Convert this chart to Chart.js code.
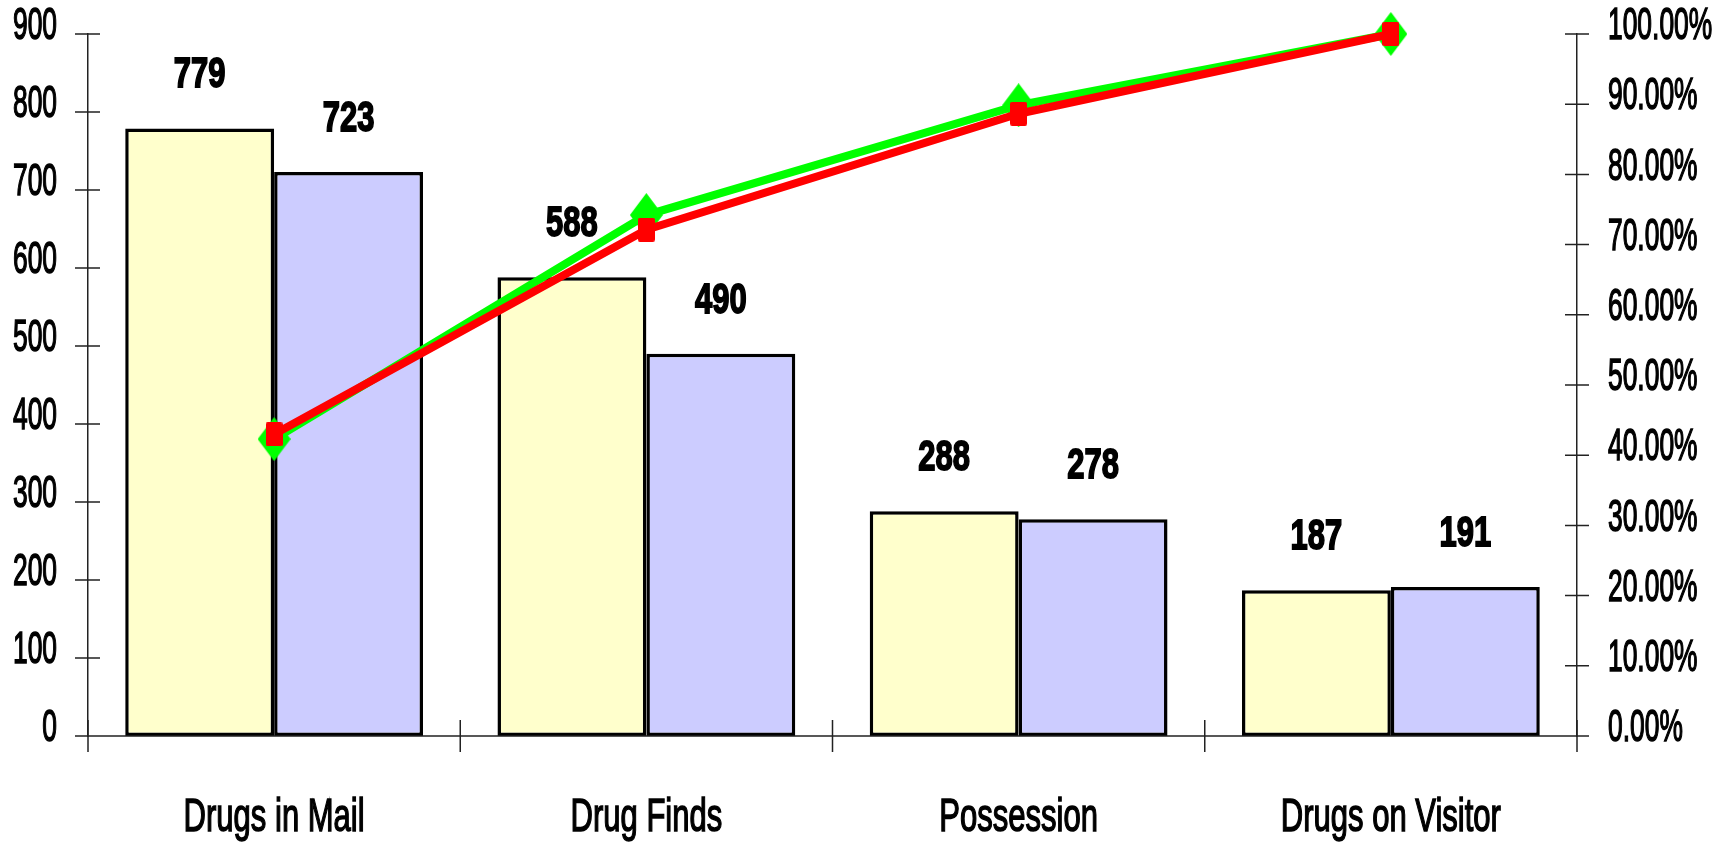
<!DOCTYPE html>
<html>
<head>
<meta charset="utf-8">
<script src="https://cdn.jsdelivr.net/npm/chart.js@4/dist/chart.umd.min.js"></script>
<style>
  html, body { margin: 0; padding: 0; background: #fff; }
  #wrap { width: 1735px; height: 845px; }
</style>
</head>
<body>
<div id="wrap"><canvas id="paretoChart"></canvas></div>
<script>
const categories = ["Drugs in Mail", "Drug Finds", "Possession", "Drugs on Visitor"];
const countsA = [779, 588, 288, 187];
const countsB = [723, 490, 278, 191];
const cumPctA = [42.29, 74.21, 89.85, 100];
const cumPctB = [42.98, 72.12, 88.64, 100];
const leftTicks = [0, 100, 200, 300, 400, 500, 600, 700, 800, 900];
const rightTicks = [0, 10, 20, 30, 40, 50, 60, 70, 80, 90, 100];

const FONT = '"Liberation Sans", Arial, sans-serif';

function markerCanvas(w, h, color, shape){
  const c = document.createElement("canvas");
  c.width = w; c.height = h;
  const g = c.getContext("2d");
  g.fillStyle = color;
  g.beginPath();
  if (shape === "diamond") {
    g.moveTo(w / 2, 0); g.lineTo(w, h / 2); g.lineTo(w / 2, h); g.lineTo(0, h / 2);
  } else {
    g.roundRect(0, 0, w, h, 2);
  }
  g.closePath();
  g.fill();
  return c;
}

// the original uses a very condensed face, so squeeze the text horizontally
function narrowText(ctx, text, x, y, sx, heavy){
  ctx.save();
  ctx.translate(x, y);
  ctx.scale(sx, 1);
  if (heavy) {
    ctx.lineWidth = heavy;
    ctx.strokeStyle = ctx.fillStyle;
    ctx.strokeText(text, 0, 0);
  }
  ctx.fillText(text, 0, 0);
  ctx.restore();
}

// axis marks that cross the axis lines, like the original spreadsheet chart
const crossTicks = {
  id: "crossTicks",
  afterDraw(chart){
    const ctx = chart.ctx;
    const area = chart.chartArea;
    const yl = chart.scales.y, yr = chart.scales.y2, x = chart.scales.x;
    ctx.save();
    ctx.strokeStyle = "#222";
    ctx.lineWidth = 1.5;
    ctx.beginPath();
    leftTicks.forEach(v => {
      const py = yl.getPixelForValue(v);
      ctx.moveTo(area.left - 13, py); ctx.lineTo(area.left + 12, py);
    });
    rightTicks.forEach(v => {
      const py = yr.getPixelForValue(v);
      ctx.moveTo(area.right - 12, py); ctx.lineTo(area.right + 12, py);
    });
    for (let i = 0; i <= categories.length; i++) {
      const px = x.getPixelForValue(i - 0.5);
      ctx.moveTo(px, area.bottom - 16); ctx.lineTo(px, area.bottom + 16);
    }
    ctx.moveTo(area.left - 13, area.bottom); ctx.lineTo(area.right + 12, area.bottom);
    ctx.stroke();

    ctx.fillStyle = "#000";
    ctx.textBaseline = "middle";
    ctx.font = "44px " + FONT;
    ctx.textAlign = "right";
    leftTicks.forEach(v => narrowText(ctx, String(v), area.left - 31, yl.getPixelForValue(v) - 7, 0.6, 1.5));
    ctx.textAlign = "left";
    rightTicks.forEach(v => narrowText(ctx, v.toFixed(2) + "%", area.right + 31, yr.getPixelForValue(v) - 7, 0.6, 1.5));
    ctx.textAlign = "center";
    ctx.font = "47px " + FONT;
    categories.forEach((c, i) => narrowText(ctx, c, x.getPixelForValue(i), area.bottom + 82, 0.66, 1.5));
    ctx.restore();
  }
};

const barLabels = {
  id: "barLabels",
  afterDatasetsDraw(chart){
    const ctx = chart.ctx;
    ctx.save();
    ctx.font = "bold 43px " + FONT;
    ctx.fillStyle = "#000";
    ctx.textAlign = "center";
    ctx.textBaseline = "middle";
    [0, 1].forEach(di => {
      const meta = chart.getDatasetMeta(di);
      meta.data.forEach((el, i) => {
        narrowText(ctx, String(chart.data.datasets[di].data[i]), el.x, el.y - 53, 0.72, 1.8);
      });
    });
    ctx.restore();
  }
};

const ctx = document.getElementById("paretoChart").getContext("2d");
new Chart(ctx, {
  data: {
    labels: categories,
    datasets: [
      { type: "bar", data: countsA, backgroundColor: "#FFFFCC", borderColor: "#000", borderWidth: 3.5,
        borderSkipped: false, yAxisID: "y", order: 3, categoryPercentage: 0.8, barPercentage: 1 },
      { type: "bar", data: countsB, backgroundColor: "#CCCCFF", borderColor: "#000", borderWidth: 3.5,
        borderSkipped: false, yAxisID: "y", order: 3, categoryPercentage: 0.8, barPercentage: 1 },
      { type: "line", data: cumPctA, borderColor: "#00FF00", borderWidth: 8, tension: 0, clip: false,
        pointStyle: markerCanvas(33, 44, "#00FF00", "diamond"), yAxisID: "y2", order: 2 },
      { type: "line", data: cumPctB, borderColor: "#FF0000", borderWidth: 8, tension: 0, clip: false,
        pointStyle: markerCanvas(17, 24, "#FF0000", "rect"), yAxisID: "y2", order: 1 }
    ]
  },
  options: {
    responsive: true,
    maintainAspectRatio: false,
    animation: false,
    layout: { padding: { top: 34, left: 0, right: 0, bottom: 0 } },
    plugins: { legend: { display: false }, tooltip: { enabled: false } },
    scales: {
      x: {
        grid: { display: false },
        border: { display: false },
        ticks: { display: false },
        afterFit: s => { s.height = 109; }
      },
      y: {
        position: "left",
        min: 0, max: 900,
        afterBuildTicks: s => { s.ticks = leftTicks.map(v => ({ value: v })); },
        grid: { display: false },
        border: { display: true, color: "#222", width: 1.5 },
        ticks: { display: false },
        afterFit: s => { s.width = 88; }
      },
      y2: {
        position: "right",
        min: 0, max: 100,
        afterBuildTicks: s => { s.ticks = rightTicks.map(v => ({ value: v })); },
        grid: { display: false },
        border: { display: true, color: "#222", width: 1.5 },
        ticks: { display: false },
        afterFit: s => { s.width = 158; }
      }
    }
  },
  plugins: [crossTicks, barLabels]
});
</script>
</body>
</html>
